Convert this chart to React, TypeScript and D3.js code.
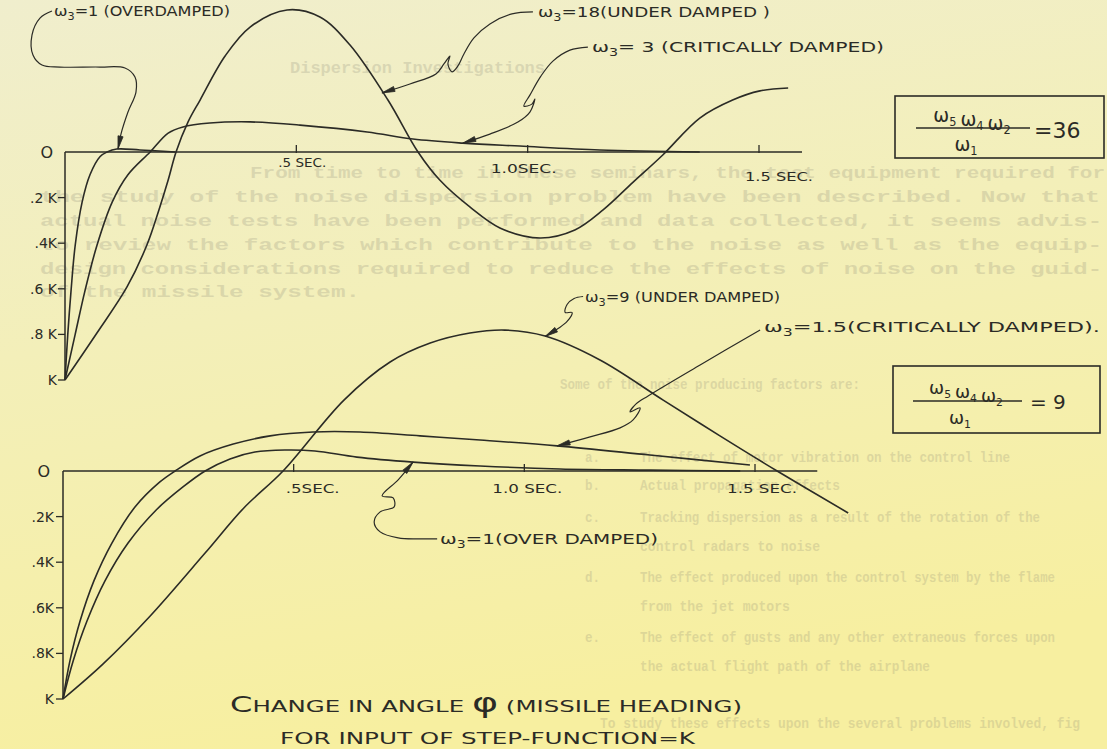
import React from 'react';
import * as d3 from 'd3';

const W = 1107;
const H = 749;

// ---------------- DATA ----------------
// time in seconds; deviation in units of K (1 = K at bottom of axis, 0 = zero line, negative = overshoot above)
// Upper chart  (w5 w4 w2 / w1 = 36)
const upperOverTime = [0, 0.006, 0.013, 0.022, 0.037, 0.054, 0.076, 0.091, 0.112, 0.162, 0.238];
const upperOverValue = [1, 0.8, 0.61, 0.41, 0.22, 0.1, 0.02, 0, -0.013, -0.009, 0];

const upperCritTime = [0, 0.022, 0.043, 0.069, 0.102, 0.136, 0.184, 0.223, 0.255, 0.313, 0.4, 0.508, 0.653, 0.752, 0.86, 0.983, 1.156, 1.372];
const upperCritValue = [1, 0.8, 0.61, 0.41, 0.22, 0.1, 0, -0.083, -0.11, -0.127, -0.132, -0.118, -0.088, -0.057, -0.039, -0.026, -0.009, 0];

const upperUnderTime = [0, 0.069, 0.134, 0.177, 0.203, 0.223, 0.24, 0.266, 0.292, 0.346, 0.4, 0.48, 0.551, 0.616, 0.698, 0.763, 0.81, 0.875, 0.94, 1.027, 1.102, 1.163, 1.228, 1.292, 1.372, 1.443, 1.502, 1.563];
const upperUnderValue = [1, 0.794, 0.592, 0.408, 0.254, 0.123, 0, -0.132, -0.228, -0.421, -0.548, -0.623, -0.592, -0.469, -0.228, 0, 0.123, 0.241, 0.333, 0.377, 0.342, 0.254, 0.132, 0.013, -0.149, -0.228, -0.268, -0.281];

// Lower chart  (w5 w4 w2 / w1 = 9)
const lowerOverTime = [0, 0.022, 0.052, 0.091, 0.141, 0.202, 0.26, 0.308, 0.362, 0.416, 0.481, 0.546, 0.637, 0.759, 0.904, 1.077, 1.272, 1.468];
const lowerOverValue = [1, 0.833, 0.658, 0.482, 0.316, 0.171, 0.07, 0, -0.053, -0.083, -0.092, -0.088, -0.061, -0.039, -0.022, -0.009, -0.004, 0];

const lowerCritTime = [0, 0.015, 0.037, 0.067, 0.106, 0.156, 0.21, 0.243, 0.297, 0.369, 0.449, 0.542, 0.644, 0.774, 0.904, 1.071, 1.272, 1.489];
const lowerCritValue = [1, 0.833, 0.658, 0.482, 0.316, 0.158, 0.048, 0, -0.066, -0.118, -0.154, -0.171, -0.171, -0.154, -0.136, -0.11, -0.07, -0.026];

const lowerUnderTime = [0, 0.087, 0.189, 0.308, 0.392, 0.477, 0.609, 0.709, 0.796, 0.882, 0.958, 1.045, 1.164, 1.301, 1.424, 1.548, 1.702];
const lowerUnderValue = [1, 0.846, 0.636, 0.36, 0.162, 0, -0.311, -0.478, -0.561, -0.605, -0.618, -0.592, -0.487, -0.311, -0.154, 0, 0.184];

const yTickValues = [0, 0.2, 0.4, 0.6, 0.8, 1];
const upperYLabels = ['O', '.2 K', '.4K', '.6 K', '.8 K', 'K'];
const lowerYLabels = ['O', '.2K', '.4K', '.6K', '.8K', 'K'];
const xTickValues = [0.5, 1.0, 1.5];
const upperXLabels = ['.5 SEC.', '1.0SEC.', '1.5 SEC.'];
const lowerXLabels = ['.5SEC.', '1.0 SEC.', '1.5 SEC.'];

// faint typewritten text of the page underneath
const typedLines = [
  { text: 'Dispersion Investigations', x: 290, y: 73, len: 255, fs: 16 },
  { text: 'From time to time in these seminars, the test equipment required for', x: 250, y: 178, len: 855, fs: 16 },
  { text: 'the study of the noise dispersion problem have been described. Now that', x: 40, y: 202, len: 1060, fs: 16 },
  { text: 'actual noise tests have been performed and data collected, it seems advis-', x: 40, y: 226, len: 1062, fs: 16 },
  { text: 'to review the factors which contribute to the noise as well as the equip-', x: 40, y: 250, len: 1062, fs: 16 },
  { text: 'design considerations required to reduce the effects of noise on the guid-', x: 40, y: 274, len: 1062, fs: 16 },
  { text: 'of the missile system.', x: 40, y: 297, len: 320, fs: 16 },
  { text: 'Some of the noise producing factors are:', x: 560, y: 389, len: 300, fs: 15 },
  { text: 'a.', x: 585, y: 462, len: 15, fs: 15 },
  { text: 'The effect of motor vibration on the control line', x: 640, y: 462, len: 370, fs: 15 },
  { text: 'b.', x: 585, y: 490, len: 15, fs: 15 },
  { text: 'Actual propagation effects', x: 640, y: 490, len: 200, fs: 15 },
  { text: 'c.', x: 585, y: 522, len: 15, fs: 15 },
  { text: 'Tracking dispersion as a result of the rotation of the', x: 640, y: 522, len: 400, fs: 15 },
  { text: 'control radars to noise', x: 640, y: 551, len: 180, fs: 15 },
  { text: 'd.', x: 585, y: 582, len: 15, fs: 15 },
  { text: 'The effect produced upon the control system by the flame', x: 640, y: 582, len: 415, fs: 15 },
  { text: 'from the jet motors', x: 640, y: 611, len: 150, fs: 15 },
  { text: 'e.', x: 585, y: 642, len: 15, fs: 15 },
  { text: 'The effect of gusts and any other extraneous forces upon', x: 640, y: 642, len: 415, fs: 15 },
  { text: 'the actual flight path of the airplane', x: 640, y: 671, len: 290, fs: 15 },
  { text: 'To study these effects upon the several problems involved, fig', x: 600, y: 728, len: 480, fs: 15 },
];

const INK = '#2b2b26';

type Pt = [number, number];

function zip(t: number[], v: number[]): Pt[] {
  return t.map((d, i) => [d, v[i]] as Pt);
}

// ---------------- SCALES ----------------
const xUp = d3.scaleLinear().domain([0, 1.5]).range([65, 759]);
const yUp = d3.scaleLinear().domain([0, 1]).range([152, 380]);
const xLo = d3.scaleLinear().domain([0, 1.5]).range([63, 755]);
const yLo = d3.scaleLinear().domain([0, 1]).range([471, 699]);

function curvePath(xs: any, ys: any, pts: Pt[]) {
  const line = d3
    .line<Pt>()
    .x((d) => xs(d[0]))
    .y((d) => ys(d[1]))
    .curve(d3.curveCatmullRom.alpha(0.5));
  return line(pts) || '';
}

function leaderPath(tip: Pt, offsets: Pt[]) {
  const pts = offsets.map((o) => [tip[0] + o[0], tip[1] + o[1]] as Pt);
  const line = d3.line<Pt>().curve(d3.curveCatmullRom.alpha(0.5));
  return { d: line(pts) || '', pts };
}

function arrowHead(pts: Pt[], len = 13, half = 2.6) {
  const a = pts[pts.length - 2];
  const b = pts[pts.length - 1];
  const dx = b[0] - a[0];
  const dy = b[1] - a[1];
  const L = Math.hypot(dx, dy) || 1;
  const ux = dx / L, uy = dy / L;
  const bx = b[0] - ux * len, by = b[1] - uy * len;
  return `M${b[0]},${b[1]} L${bx - uy * half},${by + ux * half} L${bx + uy * half},${by - ux * half} Z`;
}

const W3 = ({ x, y, rest, fs = 14, len }: { x: number; y: number; rest: string; fs?: number; len?: number }) => (
  <text x={x} y={y} fontSize={fs} fill={INK} fontFamily="'DejaVu Sans', sans-serif" textLength={len} lengthAdjust="spacingAndGlyphs">
    ω<tspan fontSize={fs * 0.7} dy={4}>3</tspan>
    <tspan dy={-4}>{rest}</tspan>
  </text>
);

const Omegas = ({ cx, y, fs, subs }: { cx: number; y: number; fs: number; subs: string[] }) => (
  <text x={cx} y={y} fontSize={fs} fill={INK} textAnchor="middle" fontFamily="'DejaVu Sans', sans-serif">
    {subs.map((s, i) => (
      <React.Fragment key={i}>
        <tspan dx={i === 0 ? 0 : 4}>ω</tspan>
        <tspan fontSize={fs * 0.6} dy={4}>{s}</tspan>
        <tspan dy={-4}></tspan>
      </React.Fragment>
    ))}
  </text>
);

function Panel({ xs, ys, labelsY, labelsX, xEnd, xLabelOffsets, series, yLabelEnd }: any) {
  const x0 = xs(0);
  const yZero = ys(0);
  return (
    <g>
      <line x1={x0} x2={x0} y1={yZero} y2={ys(1)} stroke={INK} strokeWidth={1.5} />
      <line x1={x0} x2={xs(xEnd)} y1={yZero} y2={yZero} stroke={INK} strokeWidth={1.5} />
      {yTickValues.map((v, i) => (
        <g key={i}>
          {i > 0 && <line x1={x0 - 7} x2={x0} y1={ys(v)} y2={ys(v)} stroke={INK} strokeWidth={1.3} />}
          <text
            x={i === 0 ? yLabelEnd - 4 : yLabelEnd}
            y={ys(v)}
            dy="0.36em"
            fontSize={i === 0 ? 16 : 14}
            textAnchor="end"
            fill={INK}
            fontFamily="'DejaVu Sans', sans-serif"
          >
            {labelsY[i]}
          </text>
        </g>
      ))}
      {xTickValues.map((t, i) => (
        <g key={i}>
          <line x1={xs(t)} x2={xs(t)} y1={yZero - 7} y2={yZero + 1} stroke={INK} strokeWidth={1.3} />
          <text
            x={xs(t) + xLabelOffsets[i][0]}
            y={yZero + xLabelOffsets[i][1]}
            fontSize={13}
            fill={INK}
            fontFamily="'DejaVu Sans', sans-serif"
            textLength={xLabelOffsets[i][2]}
            lengthAdjust="spacingAndGlyphs"
          >
            {labelsX[i]}
          </text>
        </g>
      ))}
      {series.map((s: Pt[], i: number) => (
        <path key={i} d={curvePath(xs, ys, s)} fill="none" stroke={INK} strokeWidth={1.6} strokeLinejoin="round" />
      ))}
    </g>
  );
}

function Leader({ tip, offsets }: { tip: Pt; offsets: Pt[] }) {
  const { d, pts } = leaderPath(tip, offsets);
  return (
    <g>
      <path d={d} fill="none" stroke={INK} strokeWidth={1.2} />
      <path d={arrowHead(pts)} fill={INK} stroke={INK} strokeWidth={0.8} />
    </g>
  );
}

export default function App() {
  const upSeries = [zip(upperOverTime, upperOverValue), zip(upperCritTime, upperCritValue), zip(upperUnderTime, upperUnderValue)];
  const loSeries = [zip(lowerOverTime, lowerOverValue), zip(lowerCritTime, lowerCritValue), zip(lowerUnderTime, lowerUnderValue)];

  const tipUpOver: Pt = [xUp(0.1145), yUp(-0.013)];
  const tipUpUnder: Pt = [xUp(0.685), yUp(-0.259)];
  const tipUpCrit: Pt = [xUp(0.86), yUp(-0.039)];
  const tipLoUnder: Pt = [xLo(1.045), yLo(-0.59)];
  const tipLoCrit: Pt = [xLo(1.071), yLo(-0.11)];
  const tipLoOver: Pt = [xLo(0.759), yLo(-0.04)];

  return (
    <div style={{ position: 'absolute', left: 0, top: 0, width: W, height: H }}>
      <svg width={W} height={H} viewBox={`0 0 ${W} ${H}`} style={{ display: 'block' }}>
        <defs>
          <linearGradient id="paper" x1="0" y1="0" x2="0.25" y2="1">
            <stop offset="0" stopColor="#f0eecd" />
            <stop offset="0.45" stopColor="#f3efb9" />
            <stop offset="1" stopColor="#f7efa0" />
          </linearGradient>
        </defs>
        <rect x={0} y={0} width={W} height={H} fill="url(#paper)" />

        {/* faint typed text */}
        <g fill="#7a786c" opacity={0.2} fontFamily="'Liberation Mono', monospace" fontWeight={700}>
          {typedLines.map((l, i) => (
            <text key={i} x={l.x} y={l.y} fontSize={l.fs} textLength={l.len} lengthAdjust="spacingAndGlyphs">
              {l.text}
            </text>
          ))}
        </g>

        <Panel
          xs={xUp}
          ys={yUp}
          labelsY={upperYLabels}
          labelsX={upperXLabels}
          xEnd={1.593}
          xLabelOffsets={[[-18, 15, 48], [-37, 21, 66], [-14, 29, 68]]}
          series={upSeries}
          yLabelEnd={57}
        />
        <Panel
          xs={xLo}
          ys={yLo}
          labelsY={lowerYLabels}
          labelsX={lowerXLabels}
          xEnd={1.635}
          xLabelOffsets={[[-8, 22, 54], [-32, 22, 70], [-28, 22, 70]]}
          series={loSeries}
          yLabelEnd={54}
        />

        {/* annotations upper */}
        <Leader tip={tipUpOver} offsets={[[-66, -138], [-78, -131], [-86, -114], [-85, -94], [-76, -84], [-58, -82], [-18, -82], [7, -81], [17, -72], [18, -57], [10, -37], [3, -15], [0, 0]]} />
        <W3 x={54} y={16} rest="=1 (OVERDAMPED)" len={176} />
        <Leader tip={tipUpUnder} offsets={[[151, -81], [130, -79], [108, -69], [92, -55], [82, -39], [76, -27], [70, -21], [66, -29], [68, -37], [62, -29], [54, -19], [28, -9], [0, 0]]} />
        <W3 x={538} y={17} rest="=18(UNDER DAMPED )" len={232} />
        <Leader tip={tipUpCrit} offsets={[[125, -96], [107, -93], [90, -82], [78, -67], [67, -48], [61, -37], [69, -39], [72, -44], [67, -31], [55, -21], [27, -9], [0, 0]]} />
        <W3 x={592} y={52} rest="= 3 (CRITICALLY  DAMPED)" len={292} />

        {/* box upper */}
        <rect x={895} y={96} width={209} height={62} fill="none" stroke={INK} strokeWidth={1.6} />
        <Omegas cx={972} y={122} fs={19} subs={['5', '4', '2']} />
        <line x1={916} x2={1030} y1={128} y2={128} stroke={INK} strokeWidth={1.4} />
        <Omegas cx={966} y={151} fs={19} subs={['1']} />
        <text x={1034} y={138} fontSize={22} fill={INK} fontFamily="'DejaVu Sans', sans-serif">=36</text>

        {/* annotations lower */}
        <Leader tip={tipLoUnder} offsets={[[38, -40], [29, -38], [22, -32], [20, -24], [27, -24], [22, -15], [13, -8], [0, 0]]} />
        <W3 x={585} y={302} rest="=9 (UNDER DAMPED)" len={195} />
        <Leader tip={tipLoCrit} offsets={[[203, -116], [143, -81], [91, -50], [79, -42], [73, -34], [83, -38], [76, -26], [63, -18], [33, -9], [0, 0]]} />
        <W3 x={764} y={332} rest="=1.5(CRITICALLY DAMPED)." len={336} />
        <Leader tip={tipLoOver} offsets={[[24, 77], [5, 77], [-15, 76], [-33, 70], [-39, 60], [-33, 50], [-19, 45], [-20, 36], [-31, 34], [-15, 18], [0, 0]]} />
        <W3 x={440} y={544} rest="=1(OVER DAMPED)" len={218} />

        {/* box lower */}
        <rect x={893} y={366} width={207} height={67} fill="none" stroke={INK} strokeWidth={1.6} />
        <Omegas cx={966} y={394} fs={18} subs={['5', '4', '2']} />
        <line x1={913} x2={1022} y1={401} y2={401} stroke={INK} strokeWidth={1.4} />
        <Omegas cx={960} y={424} fs={18} subs={['1']} />
        <text x={1030} y={409} fontSize={20} fill={INK} fontFamily="'DejaVu Sans', sans-serif">= 9</text>

        {/* title */}
        <text x={230} y={712} fontSize={16} fill={INK} fontFamily="'DejaVu Sans', sans-serif" textLength={512} lengthAdjust="spacingAndGlyphs">
          <tspan fontSize={21}>C</tspan>HANGE{'  '}IN{'  '}ANGLE{' '}
          <tspan fontSize={26}>φ</tspan>
          {' '}(MISSILE{'  '}HEADING)
        </text>
        <text x={280} y={744} fontSize={16} fill={INK} fontFamily="'DejaVu Sans', sans-serif" textLength={415} lengthAdjust="spacingAndGlyphs">
          FOR{'  '}INPUT{'  '}OF{'  '}STEP-FUNCTION=K
        </text>
      </svg>
    </div>
  );
}
